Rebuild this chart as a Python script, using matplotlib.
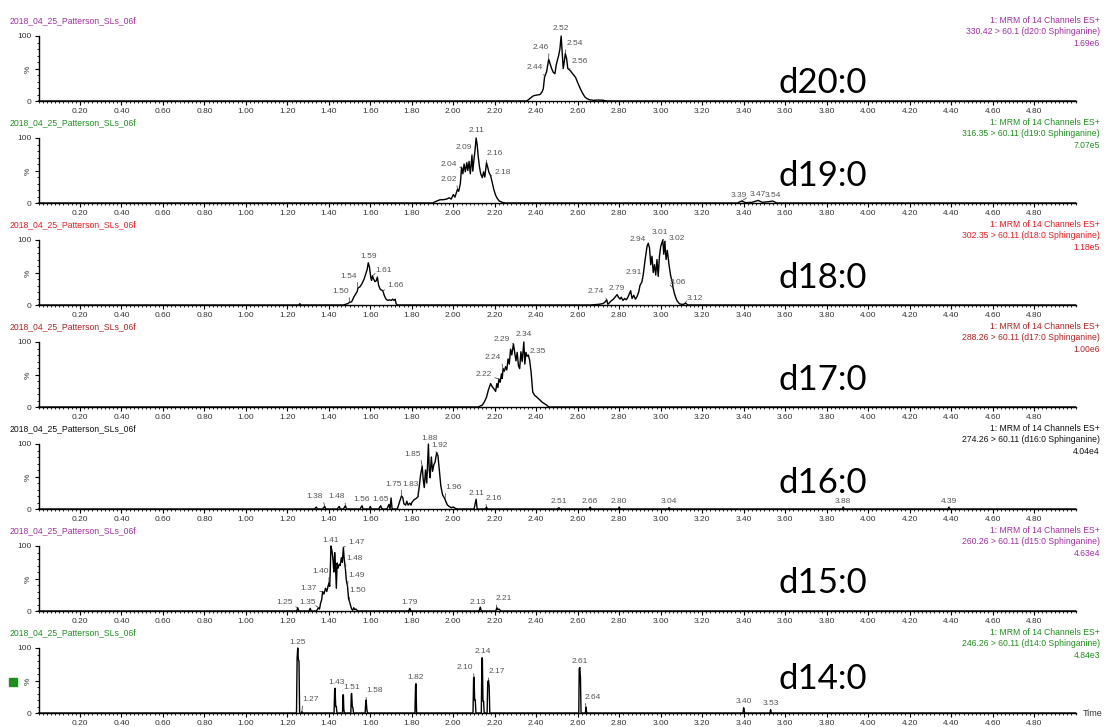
import numpy as np
import matplotlib.pyplot as plt
from matplotlib.ticker import MultipleLocator, FixedLocator

# MRM traces: retention time (min) and relative intensity (%)
d20_t = [0.00, 2.300, 2.354, 2.370, 2.386, 2.400, 2.418, 2.428, 2.434, 2.440, 2.450, 2.455,
         2.460, 2.466, 2.474, 2.482, 2.490, 2.496, 2.502, 2.508, 2.514, 2.520, 2.526, 2.530,
         2.535, 2.540, 2.546, 2.552, 2.560, 2.566, 2.575, 2.583, 2.590, 2.600, 2.611, 2.620,
         2.627, 2.635, 2.643, 2.655, 2.675, 2.700, 2.723, 2.740, 5.00]
d20_i = [0, 0, 0, 4, 8, 9, 10, 14, 19, 37, 45, 55,
         64, 58, 50, 44, 42, 55, 63, 70, 80, 100, 70, 50,
         60, 73, 66, 50, 48, 46, 42, 39, 36, 28, 20, 14,
         10, 6, 4, 2, 1, 1.5, 1, 0, 0]

d19_t = [0.00, 1.900, 1.920, 1.936, 1.950, 1.968, 1.980, 1.990, 2.000, 2.008, 2.020, 2.026,
         2.034, 2.040, 2.046, 2.052, 2.058, 2.065, 2.070, 2.076, 2.082, 2.090, 2.094, 2.100,
         2.105, 2.110, 2.115, 2.120, 2.126, 2.132, 2.140, 2.146, 2.152, 2.160, 2.166, 2.172,
         2.180, 2.188, 2.196, 2.204, 2.212, 2.222, 2.236, 2.250, 3.370, 3.390, 3.410, 3.440,
         3.470, 3.490, 3.520, 3.540, 3.560, 5.00]
d19_i = [0, 0, 3, 5, 5, 6, 8, 6, 13, 9, 21, 18,
         30, 55, 45, 60, 48, 62, 50, 64, 45, 73, 49, 68,
         82, 100, 90, 72, 56, 45, 39, 48, 40, 62, 55, 47,
         42, 31, 20, 12, 7, 3, 1, 0, 0, 3, 0.5, 1,
         4, 1, 2, 3, 0, 0]

d18_t = [0.00, 1.255, 1.260, 1.265, 1.470, 1.490, 1.500, 1.510, 1.520, 1.537, 1.540, 1.550,
         1.560, 1.570, 1.580, 1.585, 1.590, 1.596, 1.602, 1.606, 1.610, 1.616, 1.622, 1.628,
         1.634, 1.640, 1.648, 1.660, 1.668, 1.676, 1.684, 1.692, 1.700, 1.708, 1.714, 1.720,
         1.724, 1.730, 2.660, 2.700, 2.720, 2.730, 2.740, 2.745, 2.760, 2.772, 2.790, 2.796,
         2.804, 2.810, 2.818, 2.826, 2.834, 2.842, 2.855, 2.862, 2.870, 2.878, 2.886, 2.894,
         2.900, 2.910, 2.916, 2.925, 2.934, 2.940, 2.946, 2.952, 2.958, 2.964, 2.970, 2.976,
         2.982, 2.988, 2.994, 3.000, 3.010, 3.015, 3.020, 3.026, 3.032, 3.040, 3.048, 3.056,
         3.060, 3.066, 3.074, 3.080, 3.090, 3.100, 3.110, 3.120, 3.130, 5.00]
d18_i = [0, 0, 2, 0, 0, 2, 4, 5, 12, 21, 26, 28,
         33, 40, 50, 55, 65, 58, 42, 38, 45, 40, 36, 37,
         43, 30, 24, 22, 14, 9, 7, 8, 7, 9, 7, 9,
         2, 0, 0, 1, 2, 4, 8, 1, 6, 9, 16, 12,
         9, 12, 7, 10, 8, 12, 22, 10, 15, 9, 13, 20,
         30, 36, 47, 70, 90, 95, 88, 62, 75, 50, 62, 46,
         70, 44, 75, 90, 100, 78, 98, 70, 84, 62, 45, 35,
         26, 18, 10, 6, 2, 1, 1, 3, 0, 0]

d17_t = [0.00, 2.120, 2.140, 2.150, 2.160, 2.169, 2.180, 2.188, 2.196, 2.204, 2.210, 2.215,
         2.220, 2.226, 2.232, 2.236, 2.240, 2.246, 2.252, 2.258, 2.264, 2.270, 2.276, 2.282,
         2.290, 2.296, 2.302, 2.308, 2.314, 2.320, 2.326, 2.332, 2.340, 2.345, 2.350, 2.356,
         2.362, 2.368, 2.375, 2.383, 2.392, 2.400, 2.410, 2.420, 2.430, 2.440, 2.450, 2.460,
         5.00]
d17_i = [0, 0, 3, 8, 15, 26, 36, 31, 28, 24, 36, 30,
         43, 38, 51, 44, 59, 55, 62, 57, 74, 66, 89, 80,
         97, 84, 71, 84, 64, 59, 85, 70, 100, 66, 84, 78,
         80, 72, 54, 23, 18, 16, 13, 10, 7, 5, 3, 0,
         0]

d16_t = [0.00, 1.330, 1.340, 1.345, 1.370, 1.380, 1.385, 1.440, 1.450, 1.455, 1.470, 1.480,
         1.485, 1.550, 1.560, 1.565, 1.595, 1.600, 1.605, 1.640, 1.650, 1.655, 1.660, 1.680,
         1.690, 1.695, 1.700, 1.705, 1.730, 1.745, 1.750, 1.756, 1.762, 1.770, 1.776, 1.782,
         1.790, 1.796, 1.800, 1.810, 1.820, 1.830, 1.836, 1.842, 1.850, 1.855, 1.860, 1.866,
         1.872, 1.880, 1.884, 1.888, 1.894, 1.900, 1.906, 1.912, 1.920, 1.926, 1.932, 1.940,
         1.948, 1.960, 1.966, 1.972, 1.980, 1.990, 2.000, 2.010, 2.020, 2.100, 2.110, 2.115,
         2.155, 2.160, 2.165, 2.500, 2.510, 2.515, 2.655, 2.660, 2.665, 2.795, 2.800, 2.805,
         3.035, 3.040, 3.045, 3.875, 3.880, 3.885, 4.385, 4.390, 4.395, 5.00]
d16_i = [0, 0, 3, 0, 0, 4, 0, 0, 4, 0, 0, 5,
         0, 0, 5, 0, 0, 4, 0, 0, 5, 1, 0, 0,
         7, 0, 17, 0, 0, 15, 20, 18, 8, 6, 12, 6,
         9, 6, 10, 14, 16, 19, 35, 52, 66, 45, 33, 60,
         40, 100, 60, 48, 80, 58, 68, 72, 87, 82, 62, 35,
         22, 15, 10, 6, 4, 2, 3, 1, 0, 0, 15, 0,
         0, 3, 0, 0, 2, 0, 0, 3, 0, 0, 3, 0,
         0, 2, 0, 0, 3, 0, 0, 3, 0, 0]

d15_t = [0.00, 1.245, 1.250, 1.255, 1.305, 1.310, 1.315, 1.340, 1.350, 1.355, 1.360, 1.365,
         1.370, 1.376, 1.384, 1.390, 1.400, 1.404, 1.407, 1.410, 1.415, 1.420, 1.424, 1.428,
         1.432, 1.436, 1.440, 1.445, 1.450, 1.455, 1.460, 1.465, 1.470, 1.474, 1.480, 1.484,
         1.490, 1.495, 1.500, 1.505, 1.510, 1.515, 1.520, 1.525, 1.530, 1.540, 1.785, 1.790,
         1.795, 2.125, 2.130, 2.135, 2.205, 2.210, 2.215, 2.220, 2.230, 5.00]
d15_i = [0, 0, 5, 0, 0, 4, 0, 0, 5, 3, 12, 17,
         30, 26, 35, 30, 43, 38, 64, 100, 93, 78, 60, 90,
         70, 35, 74, 66, 72, 70, 82, 75, 98, 80, 64, 48,
         38, 19, 14, 8, 3, 1, 5, 2, 3, 0, 0, 4,
         0, 0, 6, 0, 0, 5, 2, 3, 0, 0]

d14_t = [0.00, 1.244, 1.247, 1.250, 1.253, 1.256, 1.259, 1.268, 1.270, 1.273, 1.425, 1.428,
         1.430, 1.433, 1.436, 1.439, 1.466, 1.468, 1.470, 1.472, 1.475, 1.506, 1.508, 1.510,
         1.513, 1.516, 1.519, 1.575, 1.578, 1.580, 1.583, 1.586, 1.815, 1.818, 1.820, 1.823,
         2.095, 2.098, 2.100, 2.103, 2.106, 2.109, 2.135, 2.138, 2.140, 2.143, 2.146, 2.149,
         2.163, 2.166, 2.170, 2.173, 2.176, 2.605, 2.607, 2.610, 2.613, 2.616, 2.637, 2.640,
         2.643, 3.397, 3.400, 3.403, 3.406, 3.527, 3.530, 3.533, 5.00]
d14_i = [0, 0, 85, 100, 82, 80, 0, 0, 2, 0, 0, 36,
         38, 10, 10, 0, 0, 28, 28, 6, 0, 0, 29, 30,
         10, 8, 0, 0, 18, 20, 6, 0, 0, 42, 45, 0,
         0, 54, 55, 20, 20, 0, 0, 84, 85, 18, 18, 0,
         0, 48, 50, 40, 0, 0, 68, 70, 55, 0, 0, 9,
         0, 0, 8, 3, 0, 0, 5, 0, 0]

# labelled peak apexes (min)
d20_peaks = [2.44, 2.46, 2.52, 2.54, 2.56]
d19_peaks = [2.02, 2.04, 2.09, 2.11, 2.16, 2.18, 3.39, 3.47, 3.54]
d18_peaks = [1.50, 1.54, 1.59, 1.61, 1.66, 2.74, 2.79, 2.91, 2.94, 3.01, 3.02, 3.06, 3.12]
d17_peaks = [2.22, 2.24, 2.29, 2.34, 2.35]
d16_peaks = [1.38, 1.48, 1.56, 1.65, 1.75, 1.83, 1.85, 1.88, 1.92, 1.96, 2.11, 2.16,
             2.51, 2.66, 2.80, 3.04, 3.88, 4.39]
d15_peaks = [1.25, 1.35, 1.37, 1.40, 1.41, 1.47, 1.48, 1.49, 1.50, 1.79, 2.13, 2.21]
d14_peaks = [1.25, 1.27, 1.43, 1.51, 1.58, 1.82, 2.10, 2.14, 2.17, 2.61, 2.64, 3.40, 3.53]

compounds = ["d20:0", "d19:0", "d18:0", "d17:0", "d16:0", "d15:0", "d14:0"]
transitions = ["330.42 > 60.1", "316.35 > 60.11", "302.35 > 60.11", "288.26 > 60.11",
               "274.26 > 60.11", "260.26 > 60.11", "246.26 > 60.11"]
max_counts = ["1.69e6", "7.07e5", "1.18e5", "1.00e6", "4.04e4", "4.63e4", "4.84e3"]
sample_name = "2018_04_25_Patterson_SLs_06f"

traces = [(d20_t, d20_i), (d19_t, d19_i), (d18_t, d18_i), (d17_t, d17_i),
          (d16_t, d16_i), (d15_t, d15_i), (d14_t, d14_i)]
peaks = [d20_peaks, d19_peaks, d18_peaks, d17_peaks, d16_peaks, d15_peaks, d14_peaks]

# text offsets of the peak labels, pixels from the apex
label_offsets = [
    [(-10, 9), (-8, 12), (0, 7), (9, 10), (10, 8)],
    [(-9, 10), (-13, 3), (-8, 8), (0, 7), (8, 9), (12, 3), (-3, 6), (0, 6), (0, 6)],
    [(-9, 11), (-9, 12), (0, 6), (11, 5), (13, 5), (-11, 8), (0, 6), (-8, 9), (-11, 4),
     (-3, 7), (12, 3), (5, 6), (9, 5)],
    [(-15, 5), (-10, 11), (-12, 4), (0, 7), (12, 1)],
    [(-10, 10), (-9, 9), (0, 6), (0, 6), (-8, 12), (-8, 12), (-10, 12), (1, 6), (3, 7),
     (9, 12), (0, 6), (7, 9), (0, 6), (0, 6), (0, 6), (0, 6), (0, 6), (0, 6)],
    [(-13, 5), (-11, 5), (-14, 3), (-8, 12), (0, 6), (13, 5), (9, 11), (9, 11), (8, 11),
     (0, 6), (-2, 5), (7, 9)],
    [(0, 6), (9, 12), (1, 6), (0, 6), (8, 9), (0, 6), (-9, 10), (0, 6), (8, 9), (0, 6),
     (7, 10), (0, 6), (0, 6)],
]
panel_colors = ["#a1309f", "#1e8f1e", "#ee1c24", "#b22222", "#111111", "#a1309f", "#1e8f1e"]
name_y = [83, 176, 278, 380, 483, 583, 679]

W, H = 1104, 727
X0, X1 = 38.5, 1075.5
small = ["Liberation Sans", "DejaVu Sans"]


def fx(px):
    return px / W


def fy(py):
    return 1 - py / H


def draw_panel(fig, k):
    base = 101 + 102 * k
    top = base - 65
    ax = fig.add_axes([fx(X0), fy(base), fx(X1 - X0), 65 / H])
    t, inten = traces[k]
    ax.plot(t, inten, color="black", lw=1.0, clip_on=False, zorder=3)

    for pt, (dx, dy) in zip(peaks[k], label_offsets[k]):
        val = np.interp(pt, t, inten)
        arrow = None
        if abs(dx) > 2 or dy > 8:
            rel = (1.0, 0.1) if dx < 0 else (0.0, 0.1) if dx > 0 else (0.5, 0.0)
            arrow = dict(arrowstyle="-", lw=0.5, color="#333333",
                         shrinkA=0, shrinkB=0, relpos=rel)
        ax.annotate(f"{pt:.2f}", xy=(pt, val), xytext=(dx, dy),
                    textcoords="offset pixels", ha="center", va="center",
                    fontsize=6, color="#555555", family=small,
                    arrowprops=arrow, annotation_clip=False)

    ax.set_xlim(0, 5.0)
    ax.set_ylim(0, 100)
    ax.xaxis.set_major_locator(FixedLocator(np.arange(0.2, 4.81, 0.2)))
    ax.xaxis.set_minor_locator(MultipleLocator(0.02))
    ax.set_xticklabels([f"{v:.2f}" for v in np.arange(0.2, 4.81, 0.2)])
    ax.yaxis.set_major_locator(FixedLocator([0, 50, 100]))
    ax.yaxis.set_minor_locator(MultipleLocator(10))
    ax.set_yticklabels(["0", "%", "100"])
    ax.get_yticklabels()[1].set_rotation(90)
    ax.tick_params(which="major", length=3, width=0.8, pad=2, labelsize=6,
                   labelcolor="#333333")
    ax.tick_params(which="minor", length=1.5, width=0.6)
    for lab in ax.get_xticklabels() + ax.get_yticklabels():
        lab.set_family(small)
    for side in ("top", "right"):
        ax.spines[side].set_visible(False)
    for side in ("left", "bottom"):
        ax.spines[side].set_linewidth(1.0)
    ax.patch.set_alpha(0)

    col = panel_colors[k]
    fig.text(fx(10), fy(top - 15.5), sample_name, fontsize=6.2, color=col,
             family=small, va="center", ha="left")
    header = ["1: MRM of 14 Channels ES+",
              f"{transitions[k]} ({compounds[k]} Sphinganine)",
              max_counts[k]]
    for line, dy in zip(header, (-15.5, -4, 7.5)):
        fig.text(fx(1100), fy(top + dy), line, fontsize=6.2, color=col,
                 family=small, va="center", ha="right")

    fig.text(fx(778), fy(name_y[k]), compounds[k], fontsize=25, color="black",
             family=["Lato", "DejaVu Sans"], va="center", ha="left")
    return ax


fig = plt.figure(figsize=(W / 100, H / 100), dpi=100)
for k in range(len(compounds)):
    draw_panel(fig, k)

# marker square and axis title of the bottom trace
fig.patches.append(plt.Rectangle((fx(9), fy(686)), 8 / W, 8 / H, color="#1e8f1e",
                                 transform=fig.transFigure, figure=fig))
fig.text(fx(1083), fy(714), "Time", fontsize=6.5, color="#333333", family=small,
         va="center", ha="left")

fig.savefig("out.png", dpi=100)
